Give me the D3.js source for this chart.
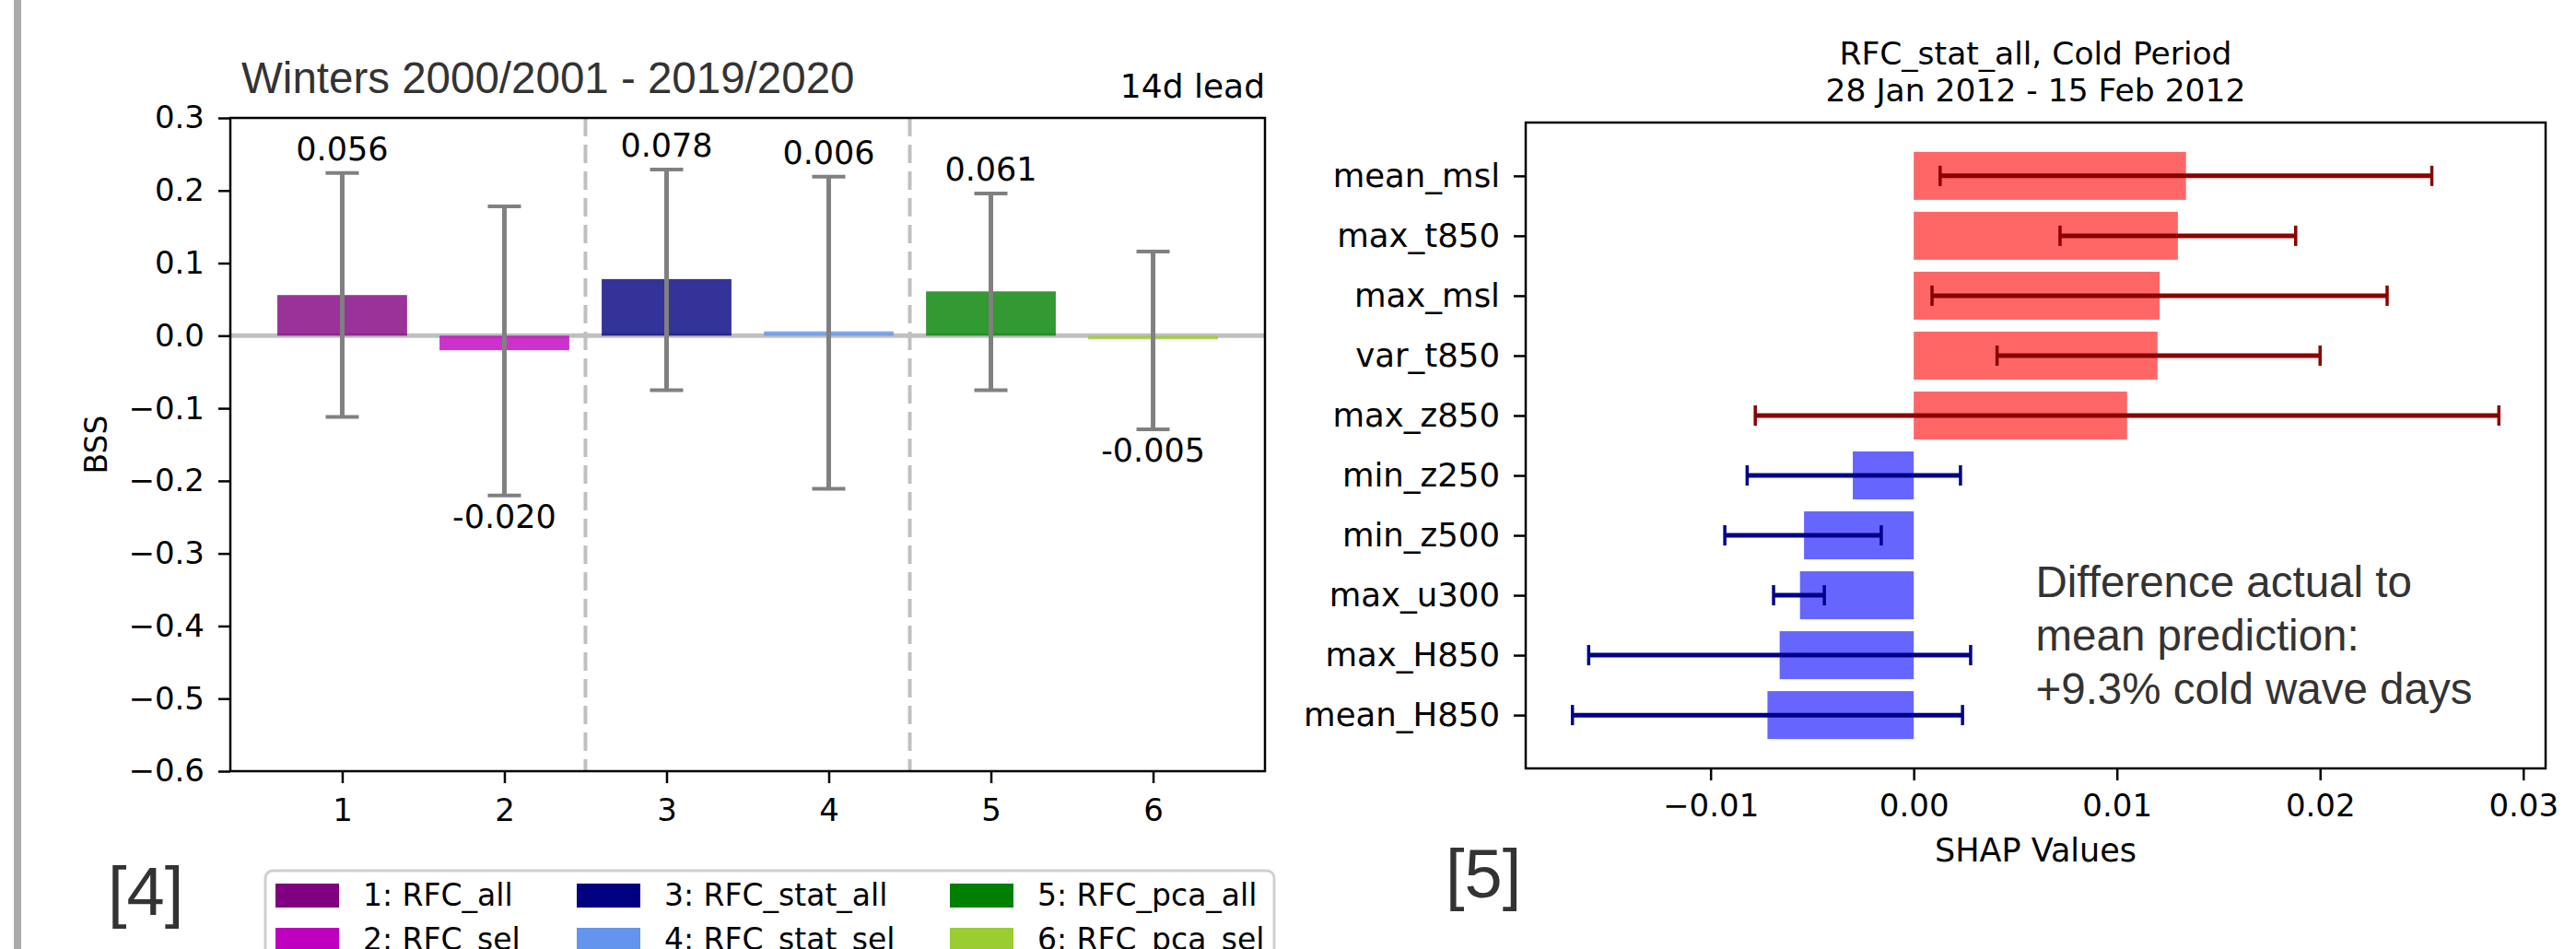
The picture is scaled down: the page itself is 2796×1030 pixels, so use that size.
<!DOCTYPE html>
<html>
<head>
<meta charset="utf-8">
<script src="https://cdn.jsdelivr.net/npm/d3@7"></script>
<style>
  body { margin: 0; background: #fff; }
  text { font-family: "DejaVu Sans", sans-serif; }
  .axis path.domain { display: none; }
  .axis line { stroke: #000; stroke-width: 2.5; }
  .axis text { font-size: 34px; fill: #000; font-family: "DejaVu Sans", sans-serif; }
  .axis.feat text { font-size: 35.5px; }
</style>
</head>
<body>
<div id="chart"></div>
<script>
// ---- panel [4]: BSS per model ----
const models = [1, 2, 3, 4, 5, 6];
const modelNames = ["RFC_all", "RFC_sel", "RFC_stat_all", "RFC_stat_sel", "RFC_pca_all", "RFC_pca_sel"];
const modelColors = ["#800080", "#bf00bf", "#000080", "#6495ed", "#008000", "#9acd32"];
const bss = [0.056, -0.020, 0.078, 0.006, 0.061, -0.005];
const bssLabels = ["0.056", "-0.020", "0.078", "0.006", "0.061", "-0.005"];
const bssLo = [-0.112, -0.220, -0.075, -0.211, -0.075, -0.129];
const bssHi = [0.224, 0.178, 0.229, 0.219, 0.196, 0.116];
const bssTicks = [0.3, 0.2, 0.1, 0.0, -0.1, -0.2, -0.3, -0.4, -0.5, -0.6];
const groupSeparators = [2.5, 4.5];

// ---- panel [5]: SHAP values ----
const features = ["mean_msl", "max_t850", "max_msl", "var_t850", "max_z850",
                  "min_z250", "min_z500", "max_u300", "max_H850", "mean_H850"];
const shap = [0.0134, 0.0130, 0.0121, 0.0120, 0.0105, -0.0030, -0.0054, -0.0056, -0.0066, -0.0072];
const shapLo = [0.0013, 0.0072, 0.0009, 0.0041, -0.0078, -0.0082, -0.0093, -0.0069, -0.0160, -0.0168];
const shapHi = [0.0255, 0.0188, 0.0233, 0.0200, 0.0288, 0.0023, -0.0016, -0.0044, 0.0028, 0.0024];
const shapTicks = [-0.01, 0.00, 0.01, 0.02, 0.03];
const annotation = ["Difference actual to", "mean prediction:", "+9.3% cold wave days"];

const W = 2796, H = 1030;
const svg = d3.select("#chart").append("svg")
    .attr("width", W).attr("height", H);

// grey page-edge bar
svg.append("rect").attr("x", 15).attr("y", 0).attr("width", 8).attr("height", H).attr("fill", "#aaaaaa");

function draw_bss() {
    const left = 250, right = 1373, top = 128, bottom = 837;
    const x = d3.scaleLinear().domain([0.31, 6.69]).range([left, right]);
    const y = d3.scaleLinear().domain([-0.6, 0.3]).range([bottom, top]);
    const bw = x(0.8) - x(0);
    const g = svg.append("g");

    // separators
    g.selectAll(".sep").data(groupSeparators).enter().append("line")
        .attr("x1", d => x(d)).attr("x2", d => x(d))
        .attr("y1", top).attr("y2", bottom)
        .attr("stroke", "#c0c0c0").attr("stroke-width", 4)
        .attr("stroke-dasharray", "20,9");

    // zero line
    g.append("line")
        .attr("x1", left).attr("x2", right).attr("y1", y(0)).attr("y2", y(0))
        .attr("stroke", "#c0c0c0").attr("stroke-width", 5);

    // bars
    g.selectAll(".bar").data(models).enter().append("rect")
        .attr("x", (d, i) => x(d) - bw / 2)
        .attr("width", bw)
        .attr("y", (d, i) => y(Math.max(0, bss[i])))
        .attr("height", (d, i) => Math.abs(y(bss[i]) - y(0)))
        .attr("fill", (d, i) => modelColors[i])
        .attr("fill-opacity", 0.8);

    // error bars
    const eb = g.selectAll(".eb").data(models).enter().append("g");
    eb.append("line")
        .attr("x1", d => x(d)).attr("x2", d => x(d))
        .attr("y1", (d, i) => y(bssLo[i])).attr("y2", (d, i) => y(bssHi[i]))
        .attr("stroke", "#808080").attr("stroke-width", 5);
    [bssLo, bssHi].forEach(arr => {
        eb.append("line")
            .attr("x1", d => x(d) - 18).attr("x2", d => x(d) + 18)
            .attr("y1", (d, i) => y(arr[i])).attr("y2", (d, i) => y(arr[i]))
            .attr("stroke", "#808080").attr("stroke-width", 4);
    });

    // value labels
    g.selectAll(".val").data(models).enter().append("text")
        .attr("x", d => x(d))
        .attr("y", (d, i) => bss[i] >= 0 ? y(bssHi[i]) - 14 : y(bssLo[i]) + 35)
        .attr("text-anchor", "middle")
        .style("font-size", "35px")
        .text((d, i) => bssLabels[i]);

    // axes
    svg.append("g").attr("class", "axis")
        .attr("transform", `translate(${left},0)`)
        .call(d3.axisLeft(y).tickValues(bssTicks).tickFormat(d3.format(".1f")).tickSize(13).tickPadding(15));
    svg.append("g").attr("class", "axis")
        .attr("transform", `translate(0,${bottom})`)
        .call(d3.axisBottom(x).tickValues(models).tickFormat(d3.format("d")).tickSize(13).tickPadding(17));

    svg.append("rect")
        .attr("x", left).attr("y", top).attr("width", right - left).attr("height", bottom - top)
        .attr("fill", "none").attr("stroke", "#000").attr("stroke-width", 2.5);

    svg.append("text")
        .attr("transform", `translate(116,${(top + bottom) / 2}) rotate(-90)`)
        .attr("text-anchor", "middle").style("font-size", "33px")
        .text("BSS");

    svg.append("text")
        .attr("x", 262).attr("y", 101)
        .style("font-family", "'Liberation Sans', Arial, sans-serif")
        .style("font-size", "47.5px").attr("fill", "#333")
        .text("Winters 2000/2001 - 2019/2020");

    svg.append("text")
        .attr("x", right).attr("y", 106).attr("text-anchor", "end")
        .style("font-size", "36px")
        .text("14d lead");

    // legend (column-major, 3 columns x 2 rows), cut by the page bottom as in the source
    svg.append("rect")
        .attr("x", 288).attr("y", 945).attr("width", 1095).attr("height", 130)
        .attr("rx", 8).attr("fill", "#fff").attr("stroke", "#d0d0d0").attr("stroke-width", 3);
    const colX = [299, 626, 1031];
    const leg = svg.selectAll(".leg").data(models).enter().append("g")
        .attr("transform", (d, i) => `translate(${colX[Math.floor(i / 2)]},${959 + (i % 2) * 48})`);
    leg.append("rect").attr("width", 69).attr("height", 26)
        .attr("fill", (d, i) => modelColors[i]);
    leg.append("text").attr("x", 95).attr("y", 24)
        .style("font-size", "33px")
        .text((d, i) => `${d}: ${modelNames[i]}`);

    svg.append("text")
        .attr("x", 117).attr("y", 993)
        .style("font-family", "'Liberation Sans', Arial, sans-serif")
        .style("font-size", "74px").attr("fill", "#333")
        .text("[4]");
}

function draw_shap() {
    const left = 1656, right = 2763, top = 133, bottom = 834;
    const x = d3.scaleLinear().domain([-0.0191, 0.0311]).range([left, right]);
    const yi = d3.scaleLinear().domain([-0.89, 9.89]).range([top, bottom]);
    const bh = yi(0.8) - yi(0);
    const g = svg.append("g");

    g.selectAll(".bar").data(features).enter().append("rect")
        .attr("x", (d, i) => x(Math.min(0, shap[i])))
        .attr("width", (d, i) => Math.abs(x(shap[i]) - x(0)))
        .attr("y", (d, i) => yi(i) - bh / 2)
        .attr("height", bh)
        .attr("fill", (d, i) => shap[i] >= 0 ? "#ff6666" : "#6666ff");

    const ecol = i => shap[i] >= 0 ? "#8b0000" : "#00008b";
    const eb = g.selectAll(".eb").data(features).enter().append("g");
    eb.append("line")
        .attr("x1", (d, i) => x(shapLo[i])).attr("x2", (d, i) => x(shapHi[i]))
        .attr("y1", (d, i) => yi(i)).attr("y2", (d, i) => yi(i))
        .attr("stroke", (d, i) => ecol(i)).attr("stroke-width", 5);
    [shapLo, shapHi].forEach(arr => {
        eb.append("line")
            .attr("x1", (d, i) => x(arr[i])).attr("x2", (d, i) => x(arr[i]))
            .attr("y1", (d, i) => yi(i) - 11).attr("y2", (d, i) => yi(i) + 11)
            .attr("stroke", (d, i) => ecol(i)).attr("stroke-width", 3.5);
    });

    const yAxis = d3.axisLeft(yi).tickValues(d3.range(features.length))
        .tickFormat(i => features[i]).tickSize(13).tickPadding(15);
    svg.append("g").attr("class", "axis feat")
        .attr("transform", `translate(${left},0)`).call(yAxis);
    svg.append("g").attr("class", "axis")
        .attr("transform", `translate(0,${bottom})`)
        .call(d3.axisBottom(x).tickValues(shapTicks).tickFormat(d3.format(".2f")).tickSize(13).tickPadding(15));

    svg.append("rect")
        .attr("x", left).attr("y", top).attr("width", right - left).attr("height", bottom - top)
        .attr("fill", "none").attr("stroke", "#000").attr("stroke-width", 2.5);

    const cx = (left + right) / 2;
    svg.append("text").attr("x", cx).attr("y", 70).attr("text-anchor", "middle")
        .style("font-size", "34.5px").text("RFC_stat_all, Cold Period");
    svg.append("text").attr("x", cx).attr("y", 110).attr("text-anchor", "middle")
        .style("font-size", "34.5px").text("28 Jan 2012 - 15 Feb 2012");
    svg.append("text").attr("x", cx).attr("y", 935).attr("text-anchor", "middle")
        .style("font-size", "35px").text("SHAP Values");

    svg.selectAll(".ann").data(annotation).enter().append("text")
        .attr("x", cx).attr("y", (d, i) => 648 + i * 58)
        .style("font-family", "'Liberation Sans', Arial, sans-serif")
        .style("font-size", "47.5px").attr("fill", "#333")
        .text(d => d);

    svg.append("text")
        .attr("x", 1569).attr("y", 974)
        .style("font-family", "'Liberation Sans', Arial, sans-serif")
        .style("font-size", "74px").attr("fill", "#333")
        .text("[5]");
}

draw_bss();
draw_shap();
</script>
</body>
</html>
